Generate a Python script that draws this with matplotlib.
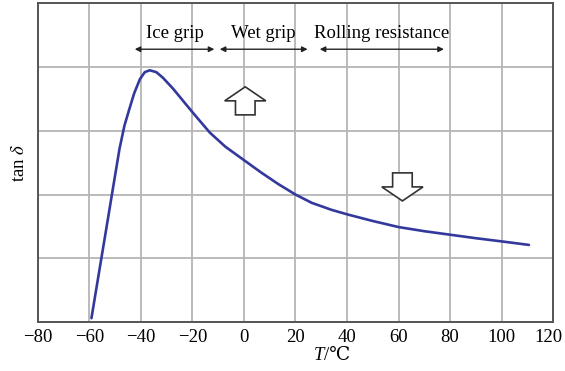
import matplotlib
matplotlib.use("Agg")
import matplotlib.pyplot as plt
from matplotlib.patches import Polygon
from matplotlib.transforms import ScaledTranslation

plt.rcParams["font.family"] = ["Liberation Serif", "DejaVu Serif"]
plt.rcParams["mathtext.fontset"] = "stix"

# tan(delta) versus temperature
temp_c = [-59.2, -55.8, -52.8, -51.5, -48.3, -46.4, -44.5, -42.6, -40.4, -38.5, -36.6,
          -34.0, -31.4, -27.5, -22.0, -18.7, -13.2, -7.2, 0.0, 6.7, 13.3, 20.0, 26.3,
          34.0, 40.0, 50.0, 60.0, 70.0, 80.0, 90.0, 100.0, 110.6]
tan_delta = [0.06, 0.89, 1.62, 1.94, 2.72, 3.08, 3.34, 3.59, 3.81, 3.92, 3.95,
             3.92, 3.83, 3.66, 3.39, 3.23, 2.97, 2.75, 2.54, 2.345, 2.165, 2.0, 1.87,
             1.76, 1.69, 1.585, 1.49, 1.425, 1.37, 1.315, 1.265, 1.21]

x_ticks = [-80, -60, -40, -20, 0, 20, 40, 60, 80, 100, 120]
y_grid = [0, 1, 2, 3, 4, 5]

# performance ranges: (label, start, end)
ranges = [("Ice grip", -42.4, -11.5), ("Wet grip", -9.4, 24.7), ("Rolling resistance", 29.4, 77.6)]

fig = plt.figure(figsize=(5.65, 3.71), dpi=100)
ax = fig.add_axes([0.067, 0.132, 0.912, 0.859])

ax.plot(temp_c, tan_delta, color="#33399c", lw=1.9, solid_capstyle="round",
        solid_joinstyle="round")

ax.set_xlim(-80, 120)
ax.set_ylim(0, 5)
ax.set_xticks(x_ticks)
ax.set_xticklabels([f"\u2212{abs(v)}" if v < 0 else str(v) for v in x_ticks], fontsize=13.5)
ax.set_yticks(y_grid)
ax.set_yticklabels([])
ax.tick_params(length=0, pad=5)
last = ax.get_xticklabels()[-1]
last.set_transform(last.get_transform() + ScaledTranslation(-5 / 100, 0, fig.dpi_scale_trans))
ax.grid(True, color="#b5b5b5", lw=1.3)
ax.set_axisbelow(True)
for s in ax.spines.values():
    s.set_color("#555555")
    s.set_linewidth(1.4)

# axis titles
fig.text(324 / 565, 1 - 355 / 371, "T", style="italic", ha="right", va="center", fontsize=13.5)
fig.text(324 / 565, 1 - 355 / 371, "/\u2103", ha="left", va="center", fontsize=13.5,
         family=["Liberation Serif", "DejaVu Serif"])
ax.set_ylabel(r"tan $\delta$", fontsize=13.5)
ax.yaxis.set_label_coords(-0.019, 0.5)

for label, x0, x1 in ranges:
    ax.annotate("", xy=(x0, 4.28), xytext=(x1, 4.28),
                arrowprops=dict(arrowstyle="<|-|>", color="#222222", lw=1.0,
                                mutation_scale=8, shrinkA=0, shrinkB=0))
    ax.text((x0 + x1) / 2, 4.40, label, ha="center", va="bottom", fontsize=13.5)

# hollow block arrows: up (grip) and down (rolling resistance)
def block_arrow(xc, ytip, up=True):
    hw, sw, hh, total = 8.0, 3.8, 0.22, 0.44
    d = -1 if up else 1
    ybase = ytip + d * hh
    yend = ytip + d * total
    pts = [(xc, ytip), (xc - hw, ybase), (xc - sw, ybase), (xc - sw, yend),
           (xc + sw, yend), (xc + sw, ybase), (xc + hw, ybase)]
    ax.add_patch(Polygon(pts, closed=True, facecolor="white", edgecolor="#333333", lw=1.2, zorder=3))

block_arrow(0.5, 3.69, up=True)
block_arrow(61.5, 1.9, up=False)

fig.savefig("out.png", dpi=100)
